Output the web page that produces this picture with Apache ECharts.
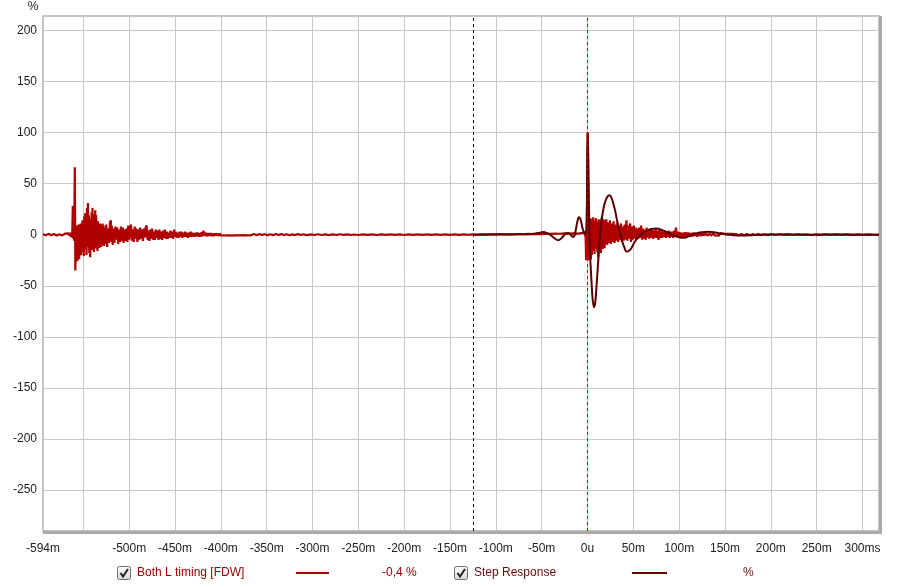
<!DOCTYPE html>
<html>
<head>
<meta charset="utf-8">
<script src="https://cdn.jsdelivr.net/npm/echarts@6/dist/echarts.min.js"></script>
<style>html,body{margin:0;padding:0;background:#fff;}#c{width:900px;height:587px;}</style>
</head>
<body>
<div id="c"></div>
<script>
// ---- data (time in ms, value in %) ----
var xLabelValues = [-594, -500, -450, -400, -350, -300, -250, -200, -150, -100, -50, 0, 50, 100, 150, 200, 250, 300];
var xGridValues = [-550, -500, -450, -400, -350, -300, -250, -200, -150, -100, -50, 0, 50, 100, 150, 200, 250, 300];
var yTickValues = [-250, -200, -150, -100, -50, 0, 50, 100, 150, 200];
var windowStart = -125;
var referenceTime = 0;

// "Both L timing [FDW]" impulse: first arrival region
var impulseEarly = [
[-594,0.4],[-591,-0.6],[-588,0.8],[-585,-0.5],[-582,0.7],[-579,-0.9],[-576,0.5],[-573,-0.7],[-570,1.1],[-568,-0.8],
[-566,1.3],[-565,-1.2],[-564,1.8],[-563,-2.5],[-562,4],[-561.5,28],[-561,-4],[-560.5,8],[-560,-6],[-559.3,66],
[-558.7,-35],[-558,6],[-557.5,-22],[-557,9],[-556.5,-26],[-556,4],[-555.5,-18],[-555,10],[-554.5,-24],[-554,7],
[-553.5,-15],[-553,11],[-552.5,-20],[-552,3],[-551.5,-12],[-551,14],[-550.5,-17],[-550,8],[-549.5,-21],[-549,18],
[-548.5,-9],[-548,21],[-547.5,-14],[-547,12],[-546.5,-20],[-546,26],[-545.5,-6],[-545,31],[-544.5,-12],[-544,19],
[-543.5,-18],[-543,15],[-542.5,-22],[-542,10],[-541.5,-8],[-541,22],[-540.5,-15],[-540,26],[-539.5,-10],[-539,20],
[-538.5,-17],[-538,12],[-537.5,-13],[-537,24],[-536.5,-8],[-536,19],[-535.5,-14],[-535,9],[-534.5,-16],[-534,13],
[-533.5,-11],[-533,8],[-532.5,-13],[-532,11],[-531.5,-7],[-531,10],[-530.5,-12],[-530,6],[-529.5,-10],[-529,11],
[-528.5,-6],[-528,9],[-527.5,-11],[-527,7],[-526,-9],[-525,10],[-524,-12],[-523,6],[-522,-8],[-521,12],
[-520,14],[-519.5,-7],[-519,9],[-518,-10],[-517,6],[-516,-8],[-515,8],[-514,-5],[-513,7],[-512,-9],
[-511,5],[-510,-7],[-509,8],[-508,-6],[-507,7],[-506,-8],[-505,5],[-504,-6],[-503,6],[-502,-7],
[-501,9],[-500,-5],[-499,7],[-498,10],[-497,-6],[-496,5],[-495,-7],[-494,8],[-493,-4],[-492,6],
[-491,-7],[-490,5],[-489,-5],[-488,7],[-487,-4],[-486,5],[-485,-6],[-484,6],[-483,-3],[-482,7],
[-481,9],[-480,-5],[-479,4],[-478,-6],[-477,5],[-476,-4],[-475,6],[-474,-5],[-473,3],[-472,-5],
[-471,5],[-470,-3],[-469,4],[-468,-5],[-467,5],[-466,-4],[-465,3],[-464,-5],[-463,4],[-462,-3],
[-461,5],[-460,-4],[-459,3],[-458,-4],[-457,2],[-456,-3],[-455,4],[-454,-3],[-453,3],[-452,-4],
[-451,5],[-450,-2],[-449,3],[-448,-3],[-447,2],[-446,-3],[-445,3],[-444,-2],[-443,3],[-442,-3],
[-441,2],[-440,-2],[-439,3],[-438,-2],[-437,2],[-436,-3],[-435,2],[-434,-2],[-433,3],[-432,-2],
[-431,2],[-430,-2],[-429,1.5],[-428,-2],[-427,2],[-426,-1.5],[-425,2],[-424,-2],[-423,1.5],[-422,-2],
[-421,2.5],[-420,-1.5],[-419,4],[-418,-1],[-417,2],[-416,-1.5],[-415,1.5],[-414,-1.5],[-413,1.5],[-412,-1],
[-411,1.5],[-410,-1.5],[-409,1],[-408,-1.5],[-407,1.2],[-406,-1],[-405,1.3],[-404,-1.2],[-403,1],[-402,-1],
[-401,1.2],[-400,-0.8]
];
// quiet stretch between arrivals
var impulseQuiet = [
[-398,0.9],[-396,-0.8],[-394,1.0],[-392,-0.7],[-390,0.8],[-388,-0.9],[-386,0.6],[-384,-0.7],[-382,0.8],[-380,-0.6],
[-378,0.7],[-376,-0.5],[-374,0.6],[-372,-0.7],[-370,0.5],[-367,-0.6],[-364,0.7],[-361,-0.5],[-358,0.6],[-355,-0.4],
[-352,0.5],[-349,-0.6],[-346,0.4],[-343,-0.5],[-340,0.6],[-337,-0.4],[-334,0.5],[-331,-0.3],[-328,0.4],[-325,-0.5],
[-322,0.3],[-319,-0.4],[-316,0.5],[-313,-0.3],[-310,0.4],[-306,-0.4],[-302,0.3],[-298,-0.3],[-294,0.4],[-290,-0.3],
[-286,0.3],[-282,-0.4],[-278,0.3],[-274,-0.3],[-270,0.4],[-266,-0.2],[-262,0.3],[-258,-0.3],[-254,0.2],[-250,-0.3],
[-245,0.3],[-240,-0.2],[-235,0.3],[-230,-0.3],[-225,0.2],[-220,-0.2],[-215,0.3],[-210,-0.2],[-205,0.2],[-200,-0.3],
[-195,0.2],[-190,-0.2],[-185,0.3],[-180,-0.2],[-175,0.2],[-170,-0.2],[-165,0.3],[-160,-0.2],[-155,0.2],[-150,-0.2],
[-145,0.3],[-140,-0.2],[-135,0.2],[-130,-0.1],[-125,0.2],[-120,-0.1],[-115,0.3],[-110,0.1],[-105,0.3],[-100,0.2],
[-95,0.4],[-90,0.2],[-85,0.5],[-80,0.3],[-75,0.6],[-70,0.4],[-65,0.7],[-60,0.5],[-55,0.8],[-50,0.6],
[-45,1.0],[-40,0.8],[-35,1.1],[-30,0.9],[-25,1.2],[-20,1.0],[-15,1.3],[-10,1.0],[-7,1.5],[-5,0.5]
];
// main arrival at 0
var impulseMain = [
[-3,2],[-2,-3],[-1.5,-25],[-1,-8],[-0.4,40],[0,100],[0.4,95],[0.8,-22],[1.2,10],[1.7,-25],
[2.2,14],[2.7,-18],[3.2,16],[3.7,-24],[4.2,8],[4.7,-20],[5.2,15],[5.7,-12],[6.2,17],[6.7,-16],
[7.2,12],[7.7,-19],[8.2,14],[8.7,-10],[9.2,16],[9.7,-14],[10.2,11],[10.7,-17],[11.2,13],[11.7,-22],
[12.2,15],[12.7,-9],[13.2,14],[13.7,-15],[14.2,10],[14.7,-18],[15.2,16],[15.7,-11],[16.2,13],[16.7,-14],
[17.2,15],[17.7,-8],[18.2,12],[18.7,-13],[19.2,14],[19.7,-9],[20.5,15],[21.5,-10],[22.5,12],[23.5,-8],
[24.5,14],[25.5,-9],[26.5,11],[27.5,-7],[28.5,13],[29.5,-8],[30.5,10],[31.5,-6],[32.5,12],[33.5,-7],
[34.5,9],[35.5,-5],[36.5,11],[37.5,-7],[38.5,8],[39.5,-6],[40.5,10],[41.5,-5],[42.5,14],[43.5,-6],
[44.5,9],[45.5,-4],[46.5,11],[47.5,-7],[48.5,8],[49.5,-5],[50.5,9],[51.5,-4],[52.5,7],[53.5,-5],
[54.5,6],[55.5,-4],[56.5,7],[57.5,-3],[58.5,9],[59.5,-5],[60.5,6],[61.5,-4],[62.5,5],[63.5,-5],
[64.5,7],[65.5,-3],[66.5,5],[67.5,-4],[68.5,6],[69.5,-3],[70.5,5],[71.5,-4],[72.5,4],[73.5,-3],
[74.5,6],[75.5,-3],[76.5,4],[77.5,-5],[78.5,5],[79.5,-3],[80.5,4],[81.5,-3],[82.5,3],[83.5,-2],
[84.5,4],[85.5,-3],[86.5,3],[87.5,-2],[88.5,4],[89.5,-3],[90.5,3],[91.5,-2],[92.5,3],[93.5,-3],
[94.5,4],[95.5,-2],[96.5,7],[97.5,-2],[98.5,3],[99.5,-2],[100.5,2.5],[101.5,-2],[102.5,2],[103.5,-2.5],
[104.5,2],[105.5,-1.5],[106.5,2.5],[107.5,-2],[108.5,2],[109.5,-1.5],[110.5,2],[111.5,-2],[112.5,1.5],[113.5,-2],
[114.5,2],[115.5,-1.5],[116.5,2],[117.5,-1],[118.5,1.5],[119.5,-2],[120.5,2],[121.5,-1],[122.5,1.5],[123.5,-1.5],
[124.5,1.5],[125.5,-1],[126.5,2],[127.5,-1],[129,1.5],[131,-1],[133,1.2],[135,-1],[137,1.3],[139,-0.8],
[141,1],[143,-1],[145,1.2],[147,-0.7],[149,1],[151,-0.8],[153,0.9],[155,-0.6],[157,0.8],[159,-0.7],
[162,0.6],[165,-0.6],[168,0.7],[171,-0.5],[174,0.6],[177,-0.5],[180,0.5],[183,-0.4],[186,0.5],[189,-0.4],
[193,0.4],[197,-0.4],[201,0.5],[205,-0.3],[209,0.4],[214,-0.3],[219,0.3],[224,-0.3],[229,0.3],[234,-0.2],
[239,0.3],[244,-0.3],[249,0.2],[254,-0.2],[259,0.3],[265,-0.2],[271,0.2],[277,-0.2],[283,0.2],[289,-0.2],
[295,0.2],[301,-0.1],[307,0.2],[313,-0.1],[318,0.1]
];
// "Step Response"
var stepResponse = [
[-125,0],[-115,0.2],[-105,0.1],[-95,0.3],[-85,0.2],[-75,0.4],[-65,0.5],[-58,1.0],[-52,2.0],[-48,2.6],
[-44,1.5],[-40,-0.5],[-36,-3.5],[-32,-5.5],[-29,-4],[-26,-1],[-23,1.2],[-21,1.7],[-19,0.5],[-17,-1.5],
[-15.5,-2.2],[-14,-0.5],[-12.5,6],[-11,13],[-9.5,17],[-8,16],[-6.5,11],[-5,5],[-3.5,1.5],[-2.5,0.5],
[-1,8],[-0.3,60],[0.3,100],[0.9,75],[1.5,35],[2.5,-12],[4,-40],[5.5,-62],[7,-71],[8.5,-66],
[10,-48],[12,-22],[14,3],[16,18],[18,28],[20,34],[22,37.5],[24,38.5],[26,36.5],[28,31],
[30,24],[32,15],[34,7],[36,0],[38,-7],[40,-12],[42.5,-16.5],[45,-16],[48,-13],[51,-8],
[54,-4],[57,-1],[60,1.5],[64,3.5],[68,5],[72,5.8],[76,6],[80,5],[84,3.5],[88,2],
[92,0],[96,-1.5],[100,-2.5],[104,-3],[108,-2.5],[112,-1],[116,0.5],[120,1.5],[124,2.3],[128,2.7],
[132,2.8],[138,2.3],[144,1.4],[150,0.5],[156,-0.2],[162,-0.7],[170,-0.8],[178,-0.5],[188,-0.1],[200,0.2],
[215,0.3],[230,0.1],[250,0],[270,0.1],[290,0],[318,0]
];

var impulseData = impulseEarly.concat(impulseQuiet, impulseMain);

var RED = '#b00000';
var DARK = '#5a0000';
var FONT = 'Liberation Sans, Arial, sans-serif';

function checkbox(x, y) {
  return [
    {type:'rect', shape:{x:x, y:y, width:13, height:13, r:2}, style:{fill:{type:'linear',x:0,y:0,x2:0,y2:1,colorStops:[{offset:0,color:'#fcfcfc'},{offset:1,color:'#d8d8d8'}]}, stroke:'#6e6e6e', lineWidth:1}},
    {type:'polyline', shape:{points:[[x+3,y+6.5],[x+5.5,y+10],[x+10.5,y+2.5]]}, style:{stroke:'#222', lineWidth:2, fill:null}}
  ];
}

var chart = echarts.init(document.getElementById('c'), null, {renderer:'canvas'});
var graphics = [
  {type:'rect', shape:{x:879, y:16, width:3, height:518}, style:{fill:'#a9a9a9'}, z:1},
  {type:'rect', shape:{x:43, y:531, width:839, height:3}, style:{fill:'#a9a9a9'}, z:1},
  {type:'text', x:33, y:7, style:{text:'%', font:'12px ' + FONT, fill:'#222', align:'center', verticalAlign:'middle'}},
  {type:'text', x:137, y:573, style:{text:'Both L timing [FDW]', font:'12px ' + FONT, fill:'#a00000', verticalAlign:'middle'}},
  {type:'line', shape:{x1:296, y1:573, x2:329, y2:573}, style:{stroke:RED, lineWidth:2}},
  {type:'text', x:382, y:573, style:{text:'-0,4 %', font:'12px ' + FONT, fill:'#a00000', verticalAlign:'middle'}},
  {type:'text', x:474, y:573, style:{text:'Step Response', font:'12px ' + FONT, fill:'#6a0a0a', verticalAlign:'middle'}},
  {type:'line', shape:{x1:632, y1:573, x2:667, y2:573}, style:{stroke:DARK, lineWidth:2}},
  {type:'text', x:743, y:573, style:{text:'%', font:'12px ' + FONT, fill:'#6a0a0a', verticalAlign:'middle'}}
].concat(checkbox(117.5, 566.5), checkbox(454.5, 566.5));

chart.setOption({
  animation: false,
  backgroundColor: '#ffffff',
  textStyle: {fontFamily: FONT},
  grid: {left:43, top:16, right:21, bottom:56, show:true, borderColor:'#c6c6c6', borderWidth:2, backgroundColor:'#ffffff'},
  xAxis: {
    type:'value', min:-594, max:318,
    axisLine:{show:false},
    axisTick:{show:false, customValues:xGridValues},
    splitLine:{show:true, lineStyle:{color:'#c8c8c8', width:1}},
    axisLabel:{customValues:xLabelValues, color:'#222', fontSize:12, margin:12, fontFamily:FONT, showMinLabel:true, showMaxLabel:true,
      formatter:function(v){ if (v===0) return '0u'; if (v===300) return '300ms'; return v + 'm'; }}
  },
  yAxis: {
    type:'value', min:-290, max:214,
    axisLine:{show:false},
    axisTick:{show:false, customValues:yTickValues},
    splitLine:{show:true, lineStyle:{color:'#c8c8c8', width:1}},
    axisLabel:{customValues:yTickValues, color:'#222', fontSize:12, margin:6, fontFamily:FONT}
  },
  series: [
    {
      name:'window', type:'line', data:[], silent:true, z:2,
      markLine:{silent:true, symbol:'none', label:{show:false}, lineStyle:{color:'#000000', type:[3,3], width:1},
        data:[{xAxis:windowStart}]}
    },
    {
      name:'reference', type:'line', data:[], silent:true, z:6,
      markLine:{silent:true, symbol:'none', label:{show:false}, lineStyle:{color:'#cc0000', type:[3,3], width:1},
        data:[{xAxis:referenceTime}]}
    },
    {
      name:'Both L timing [FDW]', type:'line', data:impulseData, showSymbol:false, sampling:null,
      lineStyle:{color:RED, width:2.2}, itemStyle:{color:RED}, z:3
    },
    {
      name:'Step Response', type:'line', data:stepResponse, showSymbol:false, smooth:0.3,
      lineStyle:{color:DARK, width:2}, itemStyle:{color:DARK}, z:4
    }
  ],
  graphic: graphics
});
</script>
</body>
</html>
